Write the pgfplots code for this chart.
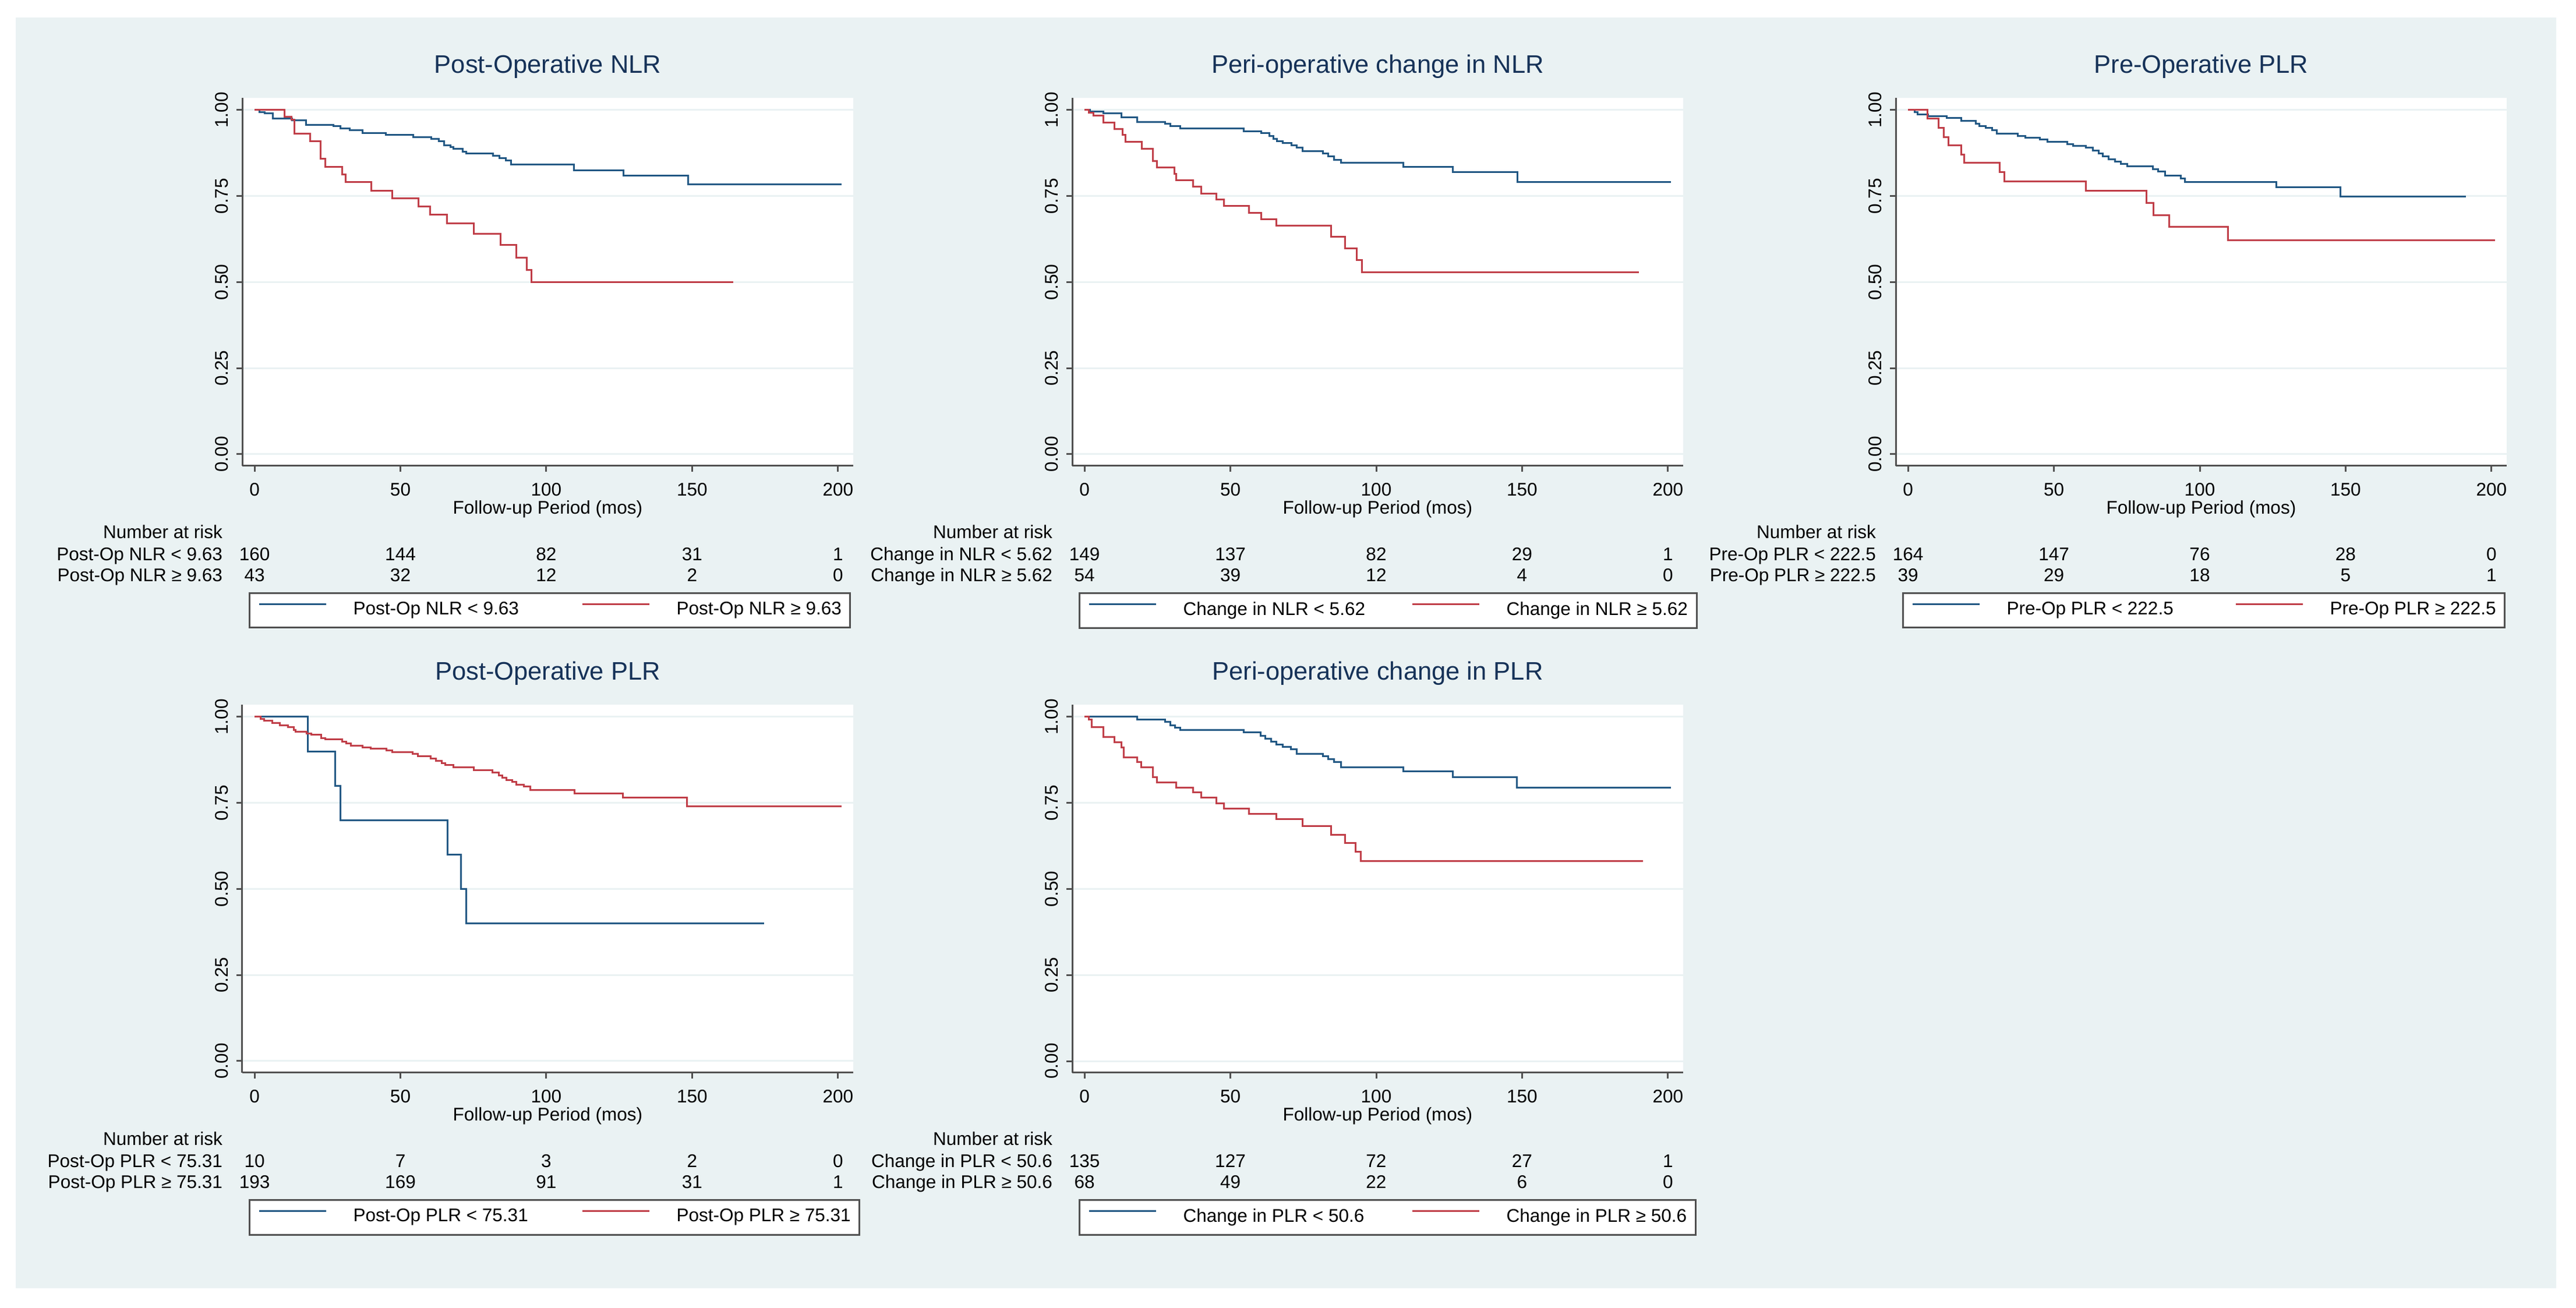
\documentclass[border=0pt]{standalone}
\usepackage{fontspec}
\setmainfont{Liberation Sans}
\usepackage{pgfplots}
\pgfplotsset{compat=1.18}

\definecolor{bgcol}{RGB}{234,242,243}
\definecolor{gridcol}{RGB}{234,242,243}
\definecolor{axiscol}{RGB}{80,80,80}
\definecolor{titlecol}{RGB}{22,50,88}
\definecolor{kmblue}{RGB}{34,88,132}
\definecolor{kmred}{RGB}{192,62,72}

\newcommand\smallfont{\fontsize{6.3}{7.5}\selectfont}
\newcommand\titlefont{\fontsize{8.7}{10}\selectfont}

\tikzset{
  risk/.style={font=\smallfont, inner sep=0pt},
  blueline/.style={kmblue, line width=0.6pt, const plot, mark=none},
  redline/.style={kmred, line width=0.6pt, const plot, mark=none},
}

% risk table: label x at -10.8, counts under the ticks
\newcommand\riskrow[7]{%
  \node[risk, anchor=base east] at (axis cs:-10.8,#1) {#2};
  \node[risk, anchor=base] at (axis cs:0,#1) {#3};
  \node[risk, anchor=base] at (axis cs:50,#1) {#4};
  \node[risk, anchor=base] at (axis cs:100,#1) {#5};
  \node[risk, anchor=base] at (axis cs:150,#1) {#6};
  \node[risk, anchor=base] at (axis cs:200,#1) {#7};
}
\newcommand\risktable[4]{%
  \node[risk, anchor=base east] at (axis cs:-10.8,-0.2453) {Number at risk};
  \riskrow{-0.3096}{#1}#3
  \riskrow{-0.3689}{#2}#4
}

\pgfplotsset{
  kmaxis/.style={
    anchor=south west,
    scale only axis, width=209.8pt, height=126.4pt,
    xmin=-4.2, xmax=205.2, ymin=-0.0338, ymax=1.0355,
    axis x line*=bottom, axis y line*=left,
    axis line style={axiscol, line width=0.6pt},
    axis background/.style={fill=white},
    xtick={0,50,100,150,200},
    ytick={0,0.25,0.5,0.75,1},
    tick align=outside, major tick length=2pt,
    tick style={axiscol, line width=0.6pt},
    ymajorgrids, grid style={gridcol, line width=0.6pt},
    /pgf/number format/assume math mode=true,
    tick label style={font=\smallfont, black, inner sep=0pt},
    xticklabel style={anchor=north},
    xticklabel shift=3.8pt,
    yticklabel shift=2.6pt,
    yticklabel style={rotate=90, anchor=south,
      /pgf/number format/.cd, fixed, fixed zerofill, precision=2},
    title style={at={(axis description cs:0.5,1.019)}, anchor=base,
      font=\titlefont, text=titlecol},
    xlabel={Follow-up Period (mos)},
    xlabel style={at={(axis description cs:0.5,-0.1305)}, anchor=base, font=\smallfont},
    clip=false,
    legend columns=2,
    legend cell align=left,
    legend image code/.code={\draw[##1] (0pt,2.2pt) -- (23pt,2.2pt);},
    legend style={at={(axis cs:-2,-0.401)}, anchor=north west,
      draw=axiscol, line width=0.6pt, fill=white,
      inner xsep=3pt, inner ysep=3pt, font=\smallfont,
      nodes={inner sep=0pt},
      /tikz/every odd column/.append style={column sep=9pt},
      /tikz/every even column/.append style={column sep=8.4pt}},
  }
}

\begin{document}
\begin{tikzpicture}
\fill[white] (0,0) rectangle (884.6pt,449.2pt);
\fill[bgcol] (5.4pt,6.8pt) rectangle (877.8pt,443.2pt);

% Post-Operative NLR
\begin{axis}[kmaxis, at={(83.2pt,289.2pt)}, title={Post-Operative NLR}]
\addplot[blueline] coordinates {
(0,1) (1.6,0.994) (3.4,0.990) (6.3,0.976) (12.9,0.970) (17.7,0.957) (27.1,0.953)
(29.4,0.946) (32.7,0.941) (37.0,0.933) (45.1,0.928) (54.3,0.922) (60.5,0.916)
(63.1,0.909) (64.9,0.898) (67.1,0.892) (68.2,0.887) (71.4,0.879) (72.5,0.874)
(81.7,0.867) (83.9,0.861) (86.1,0.854) (88.0,0.842) (109.5,0.825) (126.4,0.809)
(148.6,0.785) (201.3,0.785)};
\addlegendentry{\makebox[70pt][l]{Post-Op NLR < 9.63}}
\addplot[redline] coordinates {
(0,1) (10.2,0.981) (12.6,0.972) (13.6,0.931) (19.0,0.909) (22.7,0.859) (24.3,0.835)
(30.0,0.813) (31.2,0.791) (40.0,0.766) (47.3,0.744) (56.1,0.720) (60.2,0.697)
(65.9,0.671) (75.1,0.641) (84.3,0.608) (89.8,0.571) (93.4,0.536) (94.9,0.500)
(164.0,0.500)};
\addlegendentry{Post-Op NLR ≥ 9.63}
\risktable{Post-Op NLR < 9.63}{Post-Op NLR ≥ 9.63}{{160}{144}{82}{31}{1}}{{43}{32}{12}{2}{0}}
\end{axis}

% Peri-operative change in NLR
\begin{axis}[kmaxis, at={(368.2pt,289.2pt)}, title={Peri-operative change in NLR}]
\addplot[blueline] coordinates {
(0,1) (1.8,0.995) (6.5,0.990) (12.6,0.979) (18.0,0.966) (27.7,0.960) (29.5,0.954)
(32.9,0.946) (54.5,0.939) (60.6,0.933) (63.3,0.925) (64.7,0.917) (66.0,0.909)
(68.0,0.904) (71.0,0.897) (72.8,0.890) (74.8,0.881) (81.8,0.874) (83.6,0.866)
(85.6,0.856) (88.0,0.846) (109.3,0.835) (126.2,0.819) (148.5,0.791) (201.0,0.791)};
\addlegendentry{\makebox[70pt][l]{Change in NLR < 5.62}}
\addplot[redline] coordinates {
(0,1) (1.4,0.993) (3.1,0.984) (6.5,0.963) (10.3,0.945) (13.0,0.928) (14.0,0.908)
(19.6,0.888) (23.4,0.852) (24.8,0.834) (30.9,0.815) (31.5,0.796) (37.3,0.777)
(40.0,0.757) (45.3,0.740) (47.8,0.722) (56.3,0.702) (60.6,0.682) (65.7,0.664)
(84.5,0.632) (89.4,0.598) (93.3,0.564) (95.1,0.528) (190.0,0.528)};
\addlegendentry{Change in NLR ≥ 5.62}
\risktable{Change in NLR < 5.62}{Change in NLR ≥ 5.62}{{149}{137}{82}{29}{1}}{{54}{39}{12}{4}{0}}
\end{axis}

% Pre-Operative PLR
\begin{axis}[kmaxis, at={(651pt,289.2pt)}, title={Pre-Operative PLR}]
\addplot[blueline] coordinates {
(0,1) (2.3,0.994) (3.2,0.988) (6.8,0.983) (13.2,0.977) (18.2,0.969) (23.3,0.960)
(24.4,0.953) (26.7,0.948) (28.8,0.942) (30.4,0.932) (37.6,0.925) (40.3,0.919)
(45.3,0.914) (47.8,0.908) (54.6,0.901) (56.6,0.896) (60.9,0.890) (63.4,0.883)
(65.4,0.874) (66.8,0.866) (68.8,0.857) (70.9,0.851) (72.9,0.843) (75.2,0.836)
(84.0,0.828) (85.8,0.821) (88.2,0.810) (93.5,0.801) (95.0,0.791) (126.3,0.775)
(148.3,0.748) (191.3,0.748)};
\addlegendentry{\makebox[70pt][l]{Pre-Op PLR < 222.5}}
\addplot[redline] coordinates {
(0,1) (6.6,0.975) (10.4,0.949) (12.2,0.922) (13.8,0.897) (18.2,0.870) (19.3,0.846)
(31.5,0.820) (33.1,0.792) (61.0,0.765) (81.7,0.730) (84.2,0.695) (89.6,0.660)
(109.6,0.622) (201.2,0.622)};
\addlegendentry{Pre-Op PLR ≥ 222.5}
\risktable{Pre-Op PLR < 222.5}{Pre-Op PLR ≥ 222.5}{{164}{147}{76}{28}{0}}{{39}{29}{18}{5}{1}}
\end{axis}

% Post-Operative PLR
\begin{axis}[kmaxis, at={(83.2pt,80.8pt)}, title={Post-Operative PLR}]
\addplot[blueline] coordinates {
(0,1) (18.2,0.9) (27.6,0.8) (29.4,0.7) (66.1,0.6) (70.8,0.5) (72.5,0.4) (174.6,0.4)};
\addlegendentry{\makebox[70pt][l]{Post-Op PLR < 75.31}}
\addplot[redline] coordinates {
(0,1) (2.0,0.994) (3.3,0.989) (6.0,0.982) (8.7,0.976) (11.4,0.970) (13.4,0.962)
(14.1,0.956) (17.9,0.951) (19.5,0.948) (22.9,0.939) (24.2,0.934) (30.0,0.928)
(31.4,0.923) (33.0,0.917) (37.1,0.911) (39.8,0.907) (45.2,0.903) (47.2,0.897)
(54.2,0.892) (56.0,0.886) (60.4,0.879) (62.1,0.872) (64.1,0.866) (65.4,0.860)
(68.1,0.854) (75.2,0.845) (81.6,0.839) (83.7,0.830) (85.0,0.823) (86.4,0.816)
(88.4,0.811) (89.7,0.803) (92.4,0.797) (94.5,0.788) (109.7,0.778) (126.2,0.765)
(148.2,0.740) (201.2,0.740)};
\addlegendentry{Post-Op PLR ≥ 75.31}
\risktable{Post-Op PLR < 75.31}{Post-Op PLR ≥ 75.31}{{10}{7}{3}{2}{0}}{{193}{169}{91}{31}{1}}
\end{axis}

% Peri-operative change in PLR
\begin{axis}[kmaxis, at={(368.2pt,80.8pt)}, title={Peri-operative change in PLR}]
\addplot[blueline] coordinates {
(0,1) (18.0,0.992) (27.7,0.985) (29.5,0.976) (31.1,0.969) (32.9,0.962) (54.5,0.955)
(60.3,0.945) (61.9,0.937) (64.0,0.928) (65.7,0.920) (68.0,0.913) (70.7,0.906)
(72.8,0.892) (81.8,0.885) (83.6,0.877) (85.6,0.868) (88.0,0.854) (109.3,0.841)
(126.2,0.825) (148.2,0.794) (201.0,0.794)};
\addlegendentry{\makebox[70pt][l]{Change in PLR < 50.6}}
\addplot[redline] coordinates {
(0,1) (1.4,0.993) (2.5,0.970) (6.5,0.942) (10.3,0.927) (12.6,0.911) (13.5,0.883)
(18.0,0.869) (19.4,0.854) (23.4,0.825) (24.8,0.809) (31.5,0.794) (37.2,0.780)
(40.1,0.765) (45.3,0.749) (47.8,0.734) (56.3,0.718) (65.7,0.703) (74.8,0.682)
(84.5,0.658) (89.4,0.634) (93.0,0.609) (94.7,0.582) (191.4,0.582)};
\addlegendentry{Change in PLR ≥ 50.6}
\risktable{Change in PLR < 50.6}{Change in PLR ≥ 50.6}{{135}{127}{72}{27}{1}}{{68}{49}{22}{6}{0}}
\end{axis}

\pgfresetboundingbox
\path (0,0) rectangle (884.6pt,449.2pt);
\end{tikzpicture}
\end{document}
